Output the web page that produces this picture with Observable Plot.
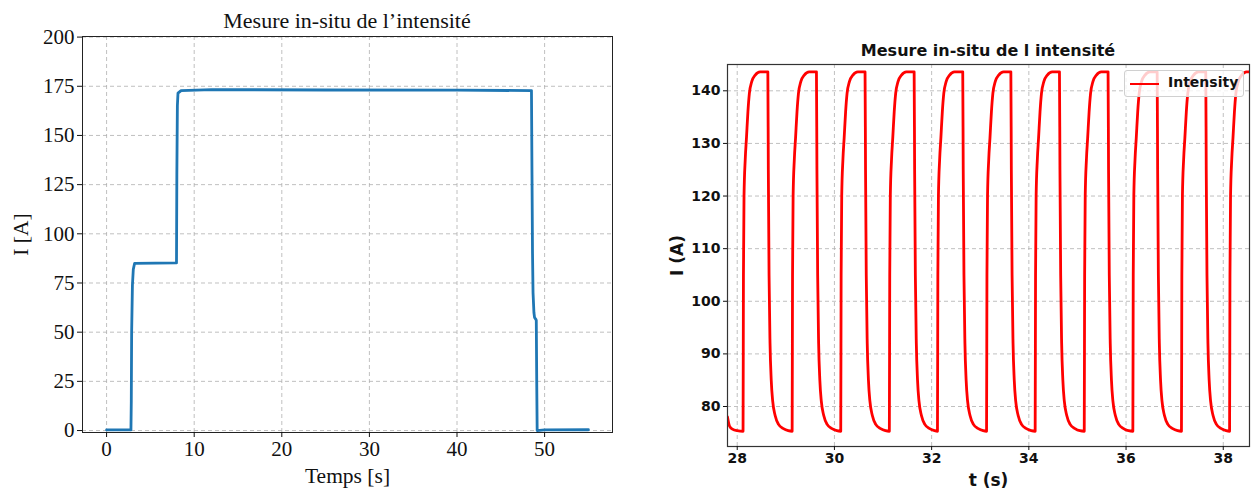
<!DOCTYPE html>
<html>
<head>
<meta charset="utf-8">
<script src="https://cdn.jsdelivr.net/npm/d3@7"></script>
<script src="https://cdn.jsdelivr.net/npm/@observablehq/plot@0.6"></script>
<style>
  html, body { margin: 0; padding: 0; background: #fff; }
  #wrap { position: relative; width: 1251px; height: 492px; overflow: hidden; }
  .panel { position: absolute; top: 0; }
  .ttl { position: absolute; white-space: nowrap; transform: translate(-50%, -50%); color: #111; }
  #legend { position: absolute; left: 1124px; top: 70px; width: 120px; height: 27px; box-sizing: border-box;
            border: 1px solid #d0d0d0; border-radius: 3px; background: rgba(255,255,255,0.8); }
  #legend .sw { position: absolute; left: 5px; top: 12px; width: 29px; height: 0; border-top: 2px solid #ff0000; }
  #legend .lb { position: absolute; left: 43px; top: 3px; font: bold 14px "DejaVu Sans"; color: #111; }
</style>
</head>
<body>
<div id="wrap">
  <div class="ttl" style="left:347px; top:21px; font: 22px 'Liberation Serif';">Mesure in-situ de l’intensité</div>
  <div class="ttl" style="left:988px; top:50px; font: bold 16px 'DejaVu Sans';">Mesure in-situ de l intensité</div>
  <div id="legend"><div class="sw"></div><div class="lb">Intensity</div></div>
</div>
<script>
// ---------- Left panel: step test ----------
const leftTitle = "Mesure in-situ de l’intensité";
const leftXLabel = "Temps [s]";
const leftYLabel = "I [A]";
const leftXTicks = [0, 10, 20, 30, 40, 50];
const leftYTicks = [0, 25, 50, 75, 100, 125, 150, 175, 200];
const leftSeries = [
  [0, 0.3], [2.78, 0.3], [2.82, 15], [2.86, 50], [2.95, 74], [3.05, 82], [3.2, 85],
  [7.98, 85.2], [8.02, 130], [8.08, 165], [8.15, 171.5], [8.5, 172.8], [12, 173.3],
  [25, 173.1], [40, 173.0], [48.5, 172.8], [48.56, 130], [48.62, 90], [48.68, 70],
  [48.78, 60], [48.85, 57.5], [49.0, 56.5], [49.05, 56], [49.1, 25], [49.15, 0],
  [50, 0.3], [55, 0.4]
];

// ---------- Right panel: square-wave test ----------
const rightTitle = "Mesure in-situ de l intensité";
const rightXLabel = "t (s)";
const rightYLabel = "I (A)";
const rightXTicks = [28, 30, 32, 34, 36, 38];
const rightYTicks = [80, 90, 100, 110, 120, 130, 140];
const rightLegend = "Intensity";
const rightSeries = [
  [27.8, 78.0], [27.84, 76.3], [27.9, 75.7], [28.0, 75.4],
  [28.12, 75.3], [28.128, 105], [28.14, 120], [28.165, 127], [28.19, 131], [28.22, 136], [28.25, 139.5], [28.30, 141.8], [28.37, 143], [28.47, 143.6],
  [28.63, 143.6], [28.64, 125], [28.655, 105], [28.675, 92], [28.70, 85], [28.73, 81], [28.78, 78.3], [28.85, 76.6], [28.95, 75.8], [29.05, 75.4],
  [29.13, 75.3], [29.138, 105], [29.15, 120], [29.175, 127], [29.20, 131], [29.23, 136], [29.26, 139.5], [29.31, 141.8], [29.38, 143], [29.48, 143.6],
  [29.63, 143.6], [29.64, 125], [29.655, 105], [29.675, 92], [29.70, 85], [29.73, 81], [29.78, 78.3], [29.85, 76.6], [29.95, 75.8], [30.05, 75.4],
  [30.13, 75.3], [30.138, 105], [30.15, 120], [30.175, 127], [30.20, 131], [30.23, 136], [30.26, 139.5], [30.31, 141.8], [30.38, 143], [30.48, 143.6],
  [30.63, 143.6], [30.64, 125], [30.655, 105], [30.675, 92], [30.70, 85], [30.73, 81], [30.78, 78.3], [30.85, 76.6], [30.95, 75.8], [31.05, 75.4],
  [31.13, 75.3], [31.138, 105], [31.15, 120], [31.175, 127], [31.20, 131], [31.23, 136], [31.26, 139.5], [31.31, 141.8], [31.38, 143], [31.48, 143.6],
  [31.64, 143.6], [31.65, 125], [31.665, 105], [31.685, 92], [31.71, 85], [31.74, 81], [31.79, 78.3], [31.86, 76.6], [31.96, 75.8], [32.06, 75.4],
  [32.12, 75.3], [32.128, 105], [32.14, 120], [32.165, 127], [32.19, 131], [32.22, 136], [32.25, 139.5], [32.30, 141.8], [32.37, 143], [32.47, 143.6],
  [32.64, 143.6], [32.65, 125], [32.665, 105], [32.685, 92], [32.71, 85], [32.74, 81], [32.79, 78.3], [32.86, 76.6], [32.96, 75.8], [33.06, 75.4],
  [33.13, 75.3], [33.138, 105], [33.15, 120], [33.175, 127], [33.20, 131], [33.23, 136], [33.26, 139.5], [33.31, 141.8], [33.38, 143], [33.48, 143.6],
  [33.63, 143.6], [33.64, 125], [33.655, 105], [33.675, 92], [33.70, 85], [33.73, 81], [33.78, 78.3], [33.85, 76.6], [33.95, 75.8], [34.05, 75.4],
  [34.13, 75.3], [34.138, 105], [34.15, 120], [34.175, 127], [34.20, 131], [34.23, 136], [34.26, 139.5], [34.31, 141.8], [34.38, 143], [34.48, 143.6],
  [34.63, 143.6], [34.64, 125], [34.655, 105], [34.675, 92], [34.70, 85], [34.73, 81], [34.78, 78.3], [34.85, 76.6], [34.95, 75.8], [35.05, 75.4],
  [35.14, 75.3], [35.148, 105], [35.16, 120], [35.185, 127], [35.21, 131], [35.24, 136], [35.27, 139.5], [35.32, 141.8], [35.39, 143], [35.49, 143.6],
  [35.63, 143.6], [35.64, 125], [35.655, 105], [35.675, 92], [35.70, 85], [35.73, 81], [35.78, 78.3], [35.85, 76.6], [35.95, 75.8], [36.05, 75.4],
  [36.14, 75.3], [36.148, 105], [36.16, 120], [36.185, 127], [36.21, 131], [36.24, 136], [36.27, 139.5], [36.32, 141.8], [36.39, 143], [36.49, 143.6],
  [36.64, 143.6], [36.65, 125], [36.665, 105], [36.685, 92], [36.71, 85], [36.74, 81], [36.79, 78.3], [36.86, 76.6], [36.96, 75.8], [37.06, 75.4],
  [37.14, 75.3], [37.148, 105], [37.16, 120], [37.185, 127], [37.21, 131], [37.24, 136], [37.27, 139.5], [37.32, 141.8], [37.39, 143], [37.49, 143.6],
  [37.64, 143.6], [37.65, 125], [37.665, 105], [37.685, 92], [37.71, 85], [37.74, 81], [37.79, 78.3], [37.86, 76.6], [37.96, 75.8], [38.06, 75.4],
  [38.13, 75.3], [38.138, 105], [38.15, 120], [38.175, 127], [38.20, 131], [38.23, 136], [38.26, 139.5], [38.31, 141.8], [38.38, 143], [38.48, 143.6],
  [38.54, 143.6]
];

const wrap = document.getElementById("wrap");
const gridStyle = {stroke: "#b0b0b0", strokeOpacity: 1, strokeWidth: 0.8, strokeDasharray: "4,3"};

const leftPlot = Plot.plot({
  width: 620, height: 492,
  marginLeft: 82, marginRight: 8, marginTop: 36, marginBottom: 60,
  style: {fontFamily: "Liberation Serif", fontSize: "21px", color: "#111", background: "transparent"},
  x: {domain: [-2.75, 57.75]},
  y: {domain: [-1, 200.3]},
  marks: [
    Plot.gridX(leftXTicks, gridStyle),
    Plot.gridY(leftYTicks, gridStyle),
    Plot.line(leftSeries, {x: d => d[0], y: d => d[1], stroke: "#1f77b4", strokeWidth: 2.8, clip: true}),
    Plot.frame({stroke: "#222", strokeWidth: 1}),
    Plot.axisX(leftXTicks, {tickSize: 5, tickPadding: 4, label: leftXLabel, labelAnchor: "center", labelArrow: "none", labelOffset: 50, fontSize: 21}),
    Plot.axisY(leftYTicks, {tickSize: 5, tickPadding: 3, label: leftYLabel, labelAnchor: "center", labelArrow: "none", labelOffset: 70, fontSize: 21})
  ]
});
leftPlot.classList.add("panel");
leftPlot.style.left = "0px";
wrap.appendChild(leftPlot);

const rightPlot = Plot.plot({
  width: 621, height: 492,
  marginLeft: 97, marginRight: 2, marginTop: 64, marginBottom: 46,
  style: {fontFamily: "DejaVu Sans", fontSize: "14px", fontWeight: "bold", color: "#111", background: "transparent"},
  x: {domain: [27.8, 38.54]},
  y: {domain: [72.4, 145]},
  marks: [
    Plot.gridX(rightXTicks, gridStyle),
    Plot.gridY(rightYTicks, gridStyle),
    Plot.line(rightSeries, {x: d => d[0], y: d => d[1], stroke: "#ff0000", strokeWidth: 2.8, curve: "monotone-x", clip: true}),
    Plot.frame({stroke: "#333", strokeWidth: 1.2}),
    Plot.axisX(rightXTicks, {tickSize: 4, tickPadding: 3, label: rightXLabel, labelAnchor: "center", labelArrow: "none", labelOffset: 39, fontSize: 14}),
    Plot.axisY(rightYTicks, {tickSize: 4, tickPadding: 3, label: rightYLabel, labelAnchor: "center", labelArrow: "none", labelOffset: 57, fontSize: 14})
  ]
});
rightPlot.classList.add("panel");
rightPlot.style.left = "630px";
wrap.insertBefore(rightPlot, document.getElementById("legend"));

// axis label font sizes
for (const [svg, size] of [[leftPlot, "21.5px"], [rightPlot, "17px"]]) {
  svg.querySelectorAll("[aria-label$='axis label'] text, [aria-label$='axis label']").forEach(el => {
    el.style.fontSize = size;
  });
}
</script>
</body>
</html>
